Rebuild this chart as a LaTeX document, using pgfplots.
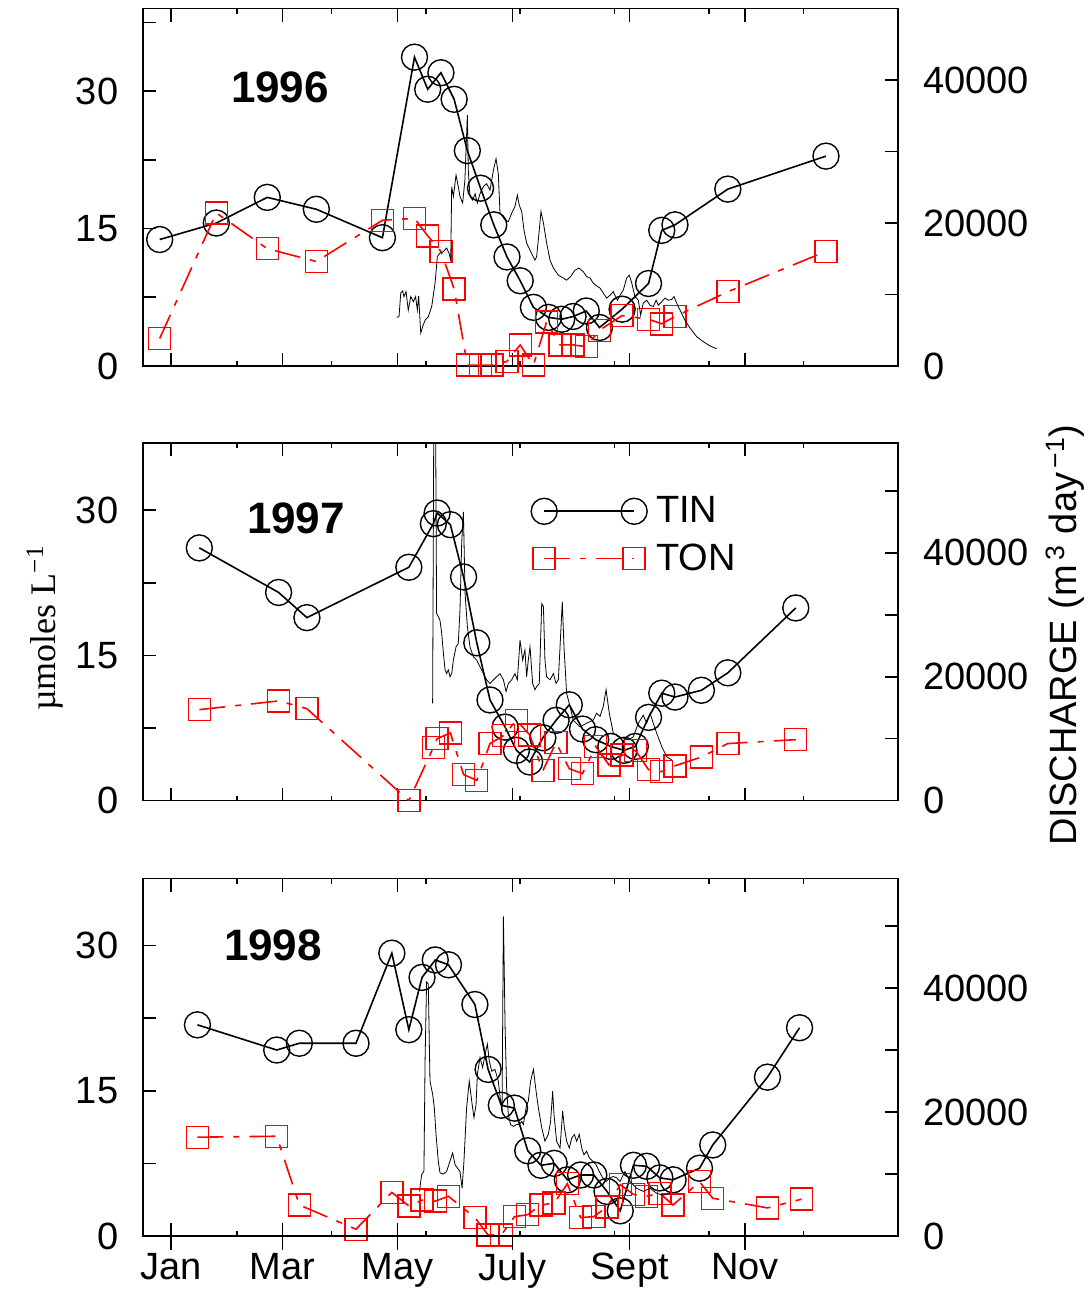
\documentclass[border=0pt]{standalone}
\usepackage{fontspec}
\setmainfont{Liberation Sans}
\newfontfamily\seriffont{Liberation Serif}
\usepackage{pgfplots}
\usepackage{pgfplotstable}
\pgfplotsset{compat=1.18}

% ---------------- 1996 ----------------
\pgfplotstableread{
d v
9 13.8
39 15.6
66 18.4
92 17.1
127 14.0
144 33.7
151 30.2
158 32.0
165 29.1
172 23.5
179 19.4
186 15.4
193 11.9
200 9.3
207 6.4
215 5.3
222 5.1
228 5.4
235 6.0
242 4.2
254 6.2
268 9.0
275 14.8
282 15.4
310 19.3
362 22.9
}\tinA
\pgfplotstableread{
d v
9 3.0
39 16.7
66 12.8
92 11.4
127 15.9
144 16.1
151 14.2
158 12.5
165 8.4
172 0.1
179 0.1
185 0.1
193 0.5
200 2.3
207 0.1
214 4.8
221 2.3
228 2.3
235 2.1
242 3.9
254 5.5
268 5.1
275 4.6
282 5.4
310 8.1
362 12.5
}\tonA
\pgfplotstableread{
d q
134.5 6800
135.8 6900
136.7 10200
137.7 10500
138.4 9700
139.5 10400
140.7 7800
142.0 9700
143.4 9000
144.6 9700
145.5 7800
146.2 9800
147.3 4600
148.3 5500
149.6 6400
151.3 6900
153.1 8300
154.9 11600
156.1 15300
157.5 15800
159.3 16000
161.0 16500
162.3 15800
163.2 14800
163.7 25100
164.6 23700
166.0 26700
167.2 25100
168.1 23700
169.5 22800
170.7 26000
172.0 35100
172.5 27400
173.4 23700
174.8 23200
176.1 24100
177.3 22800
178.7 24100
180.5 25100
182.2 25500
184.0 24600
185.8 27400
187.2 29000
188.4 26900
189.3 21400
190.7 20900
192.0 20400
193.7 20200
195.5 21400
197.2 22300
198.5 23900
199.5 22500
200.8 21600
202.0 19000
203.4 17200
205.2 16200
207.8 14800
208.7 15300
210.1 19000
211.0 21600
212.3 20000
214.0 17200
215.8 14800
217.6 13700
220.2 12700
222.9 12300
224.6 12000
226.7 12500
229.0 13400
231.1 13700
233.4 13200
235.2 12500
237.0 12300
238.7 11600
240.5 11200
242.3 10900
244.0 10200
245.8 9500
247.6 9900
249.3 10400
251.5 9200
252.9 9900
254.6 10600
256.4 12300
257.8 12700
259.1 11600
260.8 9700
262.6 9200
263.8 7100
265.2 8800
267.0 9200
268.8 8500
270.5 8300
272.0 9200
273.2 8500
275.0 9000
276.7 9500
278.5 9200
280.2 9300
281.5 9700
282.9 8800
284.7 7800
287.3 6400
290.0 5300
293.5 4100
297.0 3400
300.6 2800
304.1 2400
}\disA

% ---------------- 1997 ----------------
\pgfplotstableread{
d v
30 26.1
72 21.5
87 18.9
141 24.1
154 28.6
156 29.7
163 28.5
170 23.1
177 16.3
184 10.4
192 7.6
198 5.2
205 4.0
212 6.5
219 8.3
226 9.9
233 7.4
240 6.3
248 5.6
255 5.2
261 5.6
268 8.6
275 11.1
282 10.7
296 11.4
310 13.2
346 19.9
}\tinB
\pgfplotstableread{
d v
30 9.4
72 10.3
87 9.5
141 0.0
154 5.5
156 6.4
163 7.0
170 2.7
177 2.1
184 5.9
191 6.7
198 8.3
205 6.8
212 3.1
219 6.0
226 3.3
233 2.8
240 5.6
247 3.7
254 4.7
261 5.2
268 3.2
275 3.0
282 3.6
296 4.5
310 5.9
346 6.3
}\tonB
\pgfplotstableread{
d q
153.6 15700
154.2 60000
155.2 60000
155.7 30200
156.6 29700
157.5 29100
158.4 27000
159.3 23800
160.2 21100
161.0 20500
161.9 21100
162.8 20000
163.7 20500
164.6 22700
166.0 24800
167.2 25400
168.1 30800
169.0 41500
169.9 46600
170.8 33400
172.0 28100
173.4 24800
175.2 23200
176.9 22700
178.7 21600
180.5 20500
182.2 19500
184.0 18900
185.8 19500
187.5 20000
189.3 20500
191.1 19500
192.5 17600
193.7 18900
195.5 19500
197.2 20500
198.5 19500
199.9 25900
201.3 22700
202.5 24300
203.4 20000
204.3 22700
205.2 24800
206.6 18900
207.8 17900
208.7 18400
210.1 18900
211.4 31800
212.3 31300
213.1 22700
214.0 20000
215.8 19500
217.6 20500
219.0 18900
220.2 19500
221.1 24800
222.3 32100
223.2 24800
224.6 17300
226.4 15200
228.1 13000
231.7 11900
235.2 12500
238.7 13000
240.5 14100
242.3 13600
244.0 15200
245.5 17900
247.2 14100
249.3 10900
252.0 10300
254.6 10100
257.3 9800
259.9 10300
262.6 12500
265.2 13800
267.0 12500
268.8 14100
270.5 12500
272.3 10900
275.0 8700
277.6 7100
280.2 6600
}\disB

% ---------------- 1998 ----------------
\pgfplotstableread{
d v
29 21.8
71 19.2
83 19.9
113 19.9
132 29.2
141 21.3
148 26.7
155 28.5
162 28.0
176 23.9
183 17.2
190 13.5
197 13.2
204 8.8
211 7.3
218 7.5
225 5.8
232 6.3
239 6.3
246 4.6
253 2.6
260 7.3
267 7.2
274 6.0
281 5.8
295 7.0
302 9.4
331 16.4
348 21.5
}\tinC
\pgfplotstableread{
d v
29 10.2
71 10.3
83 3.2
113 0.7
132 4.5
141 3.1
148 3.7
155 3.6
162 4.1
176 1.9
183 0.1
190 0.1
197 2.0
204 2.2
211 3.2
218 3.4
225 5.4
232 1.9
239 2.0
246 3.0
253 5.3
260 4.3
267 4.1
274 4.4
281 3.2
295 5.6
302 3.9
331 2.9
349 3.8
}\tonC
\pgfplotstableread{
d q
146.6 7200
147.8 9900
149.0 10500
149.6 28300
150.4 41000
151.3 40700
152.2 25000
153.6 22900
154.5 20700
155.4 16400
156.6 12100
157.5 10200
159.3 10000
161.0 10400
162.8 12100
164.2 13400
165.5 11500
166.7 11000
168.1 10400
169.2 7700
170.2 12100
171.6 20700
173.0 25000
174.3 21800
175.5 19100
176.6 21200
177.3 26100
178.7 28800
180.1 27200
181.4 29300
182.6 31000
183.6 28300
184.9 26600
186.6 26900
188.4 25000
189.6 21800
190.4 20700
191.1 51600
192.0 33700
192.8 23900
193.7 19600
194.9 18000
196.4 17700
198.1 18000
199.5 18000
200.8 18500
201.7 18000
203.1 20700
204.3 21800
205.5 25000
207.0 26900
208.4 23400
209.6 20700
211.4 17500
213.1 15300
214.9 16400
216.1 18500
217.2 23400
217.9 19600
219.3 15300
221.1 14200
222.5 20200
223.4 17500
224.6 15300
226.0 14200
227.3 15800
228.7 16400
229.9 15300
231.3 16400
232.6 14200
233.8 13100
235.2 13700
236.6 12600
238.4 12100
240.2 11500
241.9 10400
243.7 9400
245.5 8800
247.6 9400
249.3 9600
251.1 9400
252.9 8800
255.5 10400
258.2 8800
261.7 7700
265.2 7200
268.8 7700
272.3 6900
275.8 6600
279.4 6900
}\disC

\pgfplotsset{
  base/.style={
    scale only axis, width=377.5pt, height=178.7pt,
    xmin=0, xmax=400, ymin=0,
    tick align=inside, major tick length=6.5pt, minor tick length=2.5pt,
    axis line style={line width=0.8pt},
    tick style={black, line width=0.8pt},
    every tick label/.append style={font=\fontsize{19}{22}\selectfont},
    scaled ticks=false,
    clip mode=individual,
  },
  leftax/.style={base,
    xtick={15,74,135,196,258,319}, xticklabels={},
    minor xtick={50,100,...,350},
    xtick pos=both, ytick pos=left,
    ytick={0,15,30}, yticklabels={0,15,30},
    yticklabel style={xshift=-8.7pt},
  },
  rightax/.style={base,
    axis x line=none, axis y line*=right,
    ytick={0,20000,40000}, yticklabels={0,20000,40000},
    extra y ticks={10000,30000,50000}, extra y tick labels={},
    yticklabel style={xshift=9.2pt},
  },
  tin/.style={black, line width=0.8pt, mark=o, mark size=6.5pt,
    mark options={solid, line width=0.7pt}},
  ton/.style={red, line width=0.8pt, dash pattern=on 13pt off 5pt on 3pt off 5pt,
    mark=square, mark size=5.5pt, mark options={solid, line width=0.7pt}},
  dis/.style={black, line width=0.4pt, mark=none},
}

\begin{document}
\begin{tikzpicture}
\useasboundingbox (-71.35pt,-28.5pt) rectangle (474.15pt,618pt);

% ===== Panel 1 (1996) =====
\begin{axis}[leftax, at={(0pt,435pt)}, anchor=south west, ymax=39,
  extra y ticks={7.5,22.5,37.5}, extra y tick labels={}]
\addplot[tin] table[x=d,y=v] {\tinA};
\addplot[ton] table[x=d,y=v] {\tonA};
\end{axis}
\begin{axis}[rightax, at={(0pt,435pt)}, anchor=south west, ymax=50000]
\addplot[dis] table[x=d,y=q] {\disA};
\end{axis}

% ===== Panel 2 (1997) =====
\begin{axis}[leftax, at={(0pt,217.65pt)}, anchor=south west, ymax=36.9,
  extra y ticks={7.5,22.5}, extra y tick labels={},
  legend style={draw=none, fill=none, at={(0.514,0.86)}, anchor=north west,
    font=\fontsize{19}{22}\selectfont, inner sep=0pt, row sep=6pt,
    nodes={inner xsep=4.5pt, inner ysep=1.5pt}},
  legend cell align=left,
  legend image code/.code={\draw[mark repeat=1,mark phase=1,#1] plot coordinates {(0pt,0pt) (45pt,0pt)};}]
\addplot[tin] table[x=d,y=v] {\tinB};
\addlegendentry{TIN}
\addplot[ton] table[x=d,y=v] {\tonB};
\addlegendentry{TON}
\end{axis}
\begin{axis}[rightax, at={(0pt,217.65pt)}, anchor=south west, ymax=57650]
\addplot[dis] table[x=d,y=q] {\disB};
\end{axis}

% ===== Panel 3 (1998) =====
\begin{axis}[leftax, at={(0pt,0pt)}, anchor=south west, ymax=36.9,
  extra y ticks={7.5,22.5}, extra y tick labels={},
  xticklabels={Jan,Mar,May,July,Sept,Nov},
  xticklabel style={yshift=-5pt}]
\addplot[tin] table[x=d,y=v] {\tinC};
\addplot[ton] table[x=d,y=v] {\tonC};
\end{axis}
\begin{axis}[rightax, at={(0pt,0pt)}, anchor=south west, ymax=57700]
\addplot[dis] table[x=d,y=q] {\disC};
\end{axis}
\begin{axis}[base, at={(0pt,0pt)}, anchor=south west, ymax=1,
  axis y line=none, axis x line*=bottom, tick align=outside,
  major tick length=7pt, xtick={15,74,135,196,258,319}, xticklabels={}]
\end{axis}

% ===== Texts =====
\node[font=\bfseries\fontsize{22}{26}\selectfont] at (68.65pt,574.5pt) {1996};
\node[font=\bfseries\fontsize{22}{26}\selectfont] at (76.65pt,359pt) {1997};
\node[font=\bfseries\fontsize{22}{26}\selectfont] at (65.15pt,145.5pt) {1998};
\node[rotate=90, font=\seriffont\fontsize{18}{22}\selectfont] at (-48.85pt,304pt) {µmoles L\textsuperscript{−1}};
\node[rotate=90, font=\fontsize{19}{22}\selectfont] at (461.15pt,300.5pt) {DISCHARGE (m\textsuperscript{\,3} day\textsuperscript{\,−1})};
\end{tikzpicture}
\end{document}
